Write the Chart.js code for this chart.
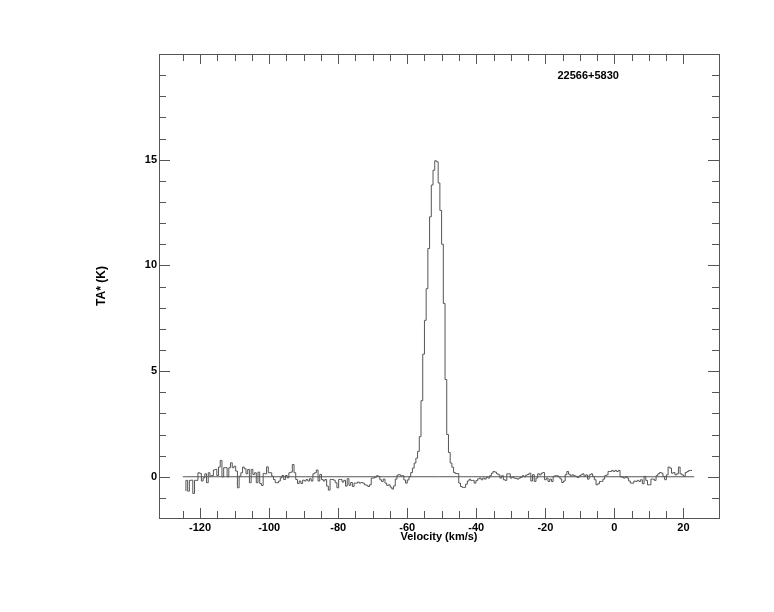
<!DOCTYPE html>
<html>
<head>
<meta charset="utf-8">
<script src="https://cdn.jsdelivr.net/npm/chart.js@4.4.0/dist/chart.umd.min.js"></script>
<style>
  html, body { margin: 0; padding: 0; background: #fff; }
  canvas { display: block; }
</style>
</head>
<body>
<canvas id="spec" width="774" height="612"></canvas>
<script>
// spectrum channels: first channel edge and width (km/s)
const V0 = -124.1;
const DV = 0.497;

// antenna temperature TA* (K) per channel
const ta = [
  -0.68, -0.17, -0.68, -0.17, -0.16, -0.79, -0.17, -0.17, 0.19, 0.16,
  -0.2, -0.05, 0.14, -0.28, 0.19, 0.03, 0.06, 0.32, 0.35, 0.06,
  0.46, 0.77, 0, 0.43, 0.43, 0, 0.43, 0.66, 0.43, 0.5,
  0.27, -0.52, 0.03, 0.19, 0.46, 0.38, 0.14, 0.35, -0.28, 0.35,
  0.11, 0.19, -0.28, 0.22, -0.32, -0.41, 0.16, 0.14, 0.47, 0.19,
  0.19, 0.03, -0.13, -0.28, -0.28, -0.2, -0.05, 0.06, -0.13, 0.06,
  -0.05, 0.19, 0.22, 0.58, 0.19, -0.13, -0.32, -0.2, -0.32, -0.16,
  -0.2, -0.13, -0.2, -0.09, -0.2, 0.14, 0.19, 0.32, -0.2, 0.11,
  -0.13, -0.2, -0.13, -0.44, -0.63, -0.13, -0.13, -0.16, -0.28, -0.52,
  -0.13, -0.13, -0.25, -0.17, -0.44, -0.09,
  -0.4, -0.27, -0.46, -0.3, -0.3, -0.25, -0.3, -0.27, -0.3, -0.38,
  -0.4, -0.46, -0.38, -0.06, -0.06, -0.02, 0.05, 0.02, -0.14, -0.22,
  -0.11, -0.3, -0.41, -0.38, -0.49, -0.58, -0.43, -0.11,
  0.08, 0.1, 0.05, 0.05, -0.15, -0.3, -0.15, 0.0, 0.2, 0.41,
  0.65, 0.88, 1.2, 1.9, 3.6, 5.8, 7.4, 8.9, 10.8, 12.3,
  13.8, 14.5, 14.95, 14.9, 13.9, 12.6, 11.0, 8.2, 4.6, 2.0,
  1.15, 0.65, 0.45, 0.2, 0.15, 0.15, -0.3, -0.46,
  -0.5, -0.5, -0.35, -0.2, -0.12, -0.18, -0.17, -0.3, -0.18, -0.1,
  -0.06, -0.14, -0.06, -0.11, -0.02, -0.06, 0.05, 0.17, 0.25, 0.22,
  0.14, 0.09, -0.06, 0.05, -0.14, -0.17, 0.14, 0.14, -0.06, -0.02,
  -0.06, -0.08, -0.11, -0.06, -0.02, 0.05, 0.0, 0.08, 0.11, 0.17,
  -0.2, 0.1, -0.22, -0.06, 0.14, 0.09, 0.17, 0.2, -0.14, -0.06,
  -0.22, -0.11, -0.22, 0.02, 0.05, 0.05,
  0.0, -0.1, -0.27, -0.2, 0.1, 0.25, 0.12, 0.05, 0.09, 0.05,
  0.02, -0.04, 0.04, 0.09, 0.14, 0.02, 0.09, -0.11, 0.09, 0.14,
  0.02, -0.14, -0.38, -0.33, -0.22, -0.22, -0.11, 0.05, 0.09, 0.25,
  0.25, 0.3, 0.25, 0.3, 0.25, 0.3, 0.0, -0.02, -0.06, 0.0,
  -0.06, -0.2, -0.3, -0.3, -0.2, -0.22, -0.17, -0.22, -0.14, -0.33,
  0.02, -0.17, -0.38, -0.38, -0.11, -0.11, -0.17, 0.05, 0.14, 0.2,
  0.17, 0.02, -0.14, 0.09, 0.46, 0.41, 0.17, 0.2, 0.09, 0.14,
  0.46, 0.14, 0.09, 0.02, 0.2, 0.25, 0.3
];

// zero baseline drawn across the spectrum
const baseX = [-125.0, 23.1];

// axes
const xRange = [-131.9, 30.3];
const yRange = [-1.95, 20.0];
const xLabels = [-120, -100, -80, -60, -40, -20, 0, 20];
const yLabels = [0, 5, 10, 15];
const xMinor = [];
for (let v = -125; v <= 20; v += 5) xMinor.push(v);
const yMinor = [];
for (let v = -1; v <= 19; v += 1) yMinor.push(v);

const sourceName = "22566+5830";
const lineColor = "#555";
const fontFam = '"Liberation Sans", Arial, sans-serif';

// step histogram: each point is a channel's left edge, last point closes the final channel
const specPoints = ta.map((t, i) => ({ x: V0 + i * DV, y: t }));
specPoints.push({ x: V0 + ta.length * DV, y: ta[ta.length - 1] });

const frameTicks = {
  id: "frameTicks",
  afterDatasetsDraw(chart) {
    const { ctx, chartArea: a, scales } = chart;
    const x = scales.x, y = scales.y;
    ctx.save();
    ctx.strokeStyle = lineColor;
    ctx.lineWidth = 1;
    ctx.strokeRect(a.left + 0.5, a.top + 0.5, a.right - a.left, a.bottom - a.top);
    ctx.beginPath();
    xMinor.forEach((v) => {
      const px = Math.round(x.getPixelForValue(v)) + 0.5;
      const len = xLabels.includes(v) ? 10 : 7;
      ctx.moveTo(px, a.bottom);
      ctx.lineTo(px, a.bottom - len);
      ctx.moveTo(px, a.top);
      ctx.lineTo(px, a.top + len);
    });
    yMinor.forEach((v) => {
      const py = Math.round(y.getPixelForValue(v)) + 0.5;
      const len = yLabels.includes(v) ? 11 : 7;
      ctx.moveTo(a.left, py);
      ctx.lineTo(a.left + len, py);
      ctx.moveTo(a.right, py);
      ctx.lineTo(a.right - len, py);
    });
    ctx.stroke();

    ctx.fillStyle = "#000";
    ctx.font = "bold 11px " + fontFam;
    ctx.textAlign = "center";
    ctx.textBaseline = "middle";
    ctx.fillText(sourceName, x.getPixelForValue(-7.6), y.getPixelForValue(18.95));
    ctx.restore();
  },
};

new Chart(document.getElementById("spec"), {
  type: "line",
  data: {
    datasets: [
      {
        data: specPoints,
        borderColor: lineColor,
        borderWidth: 1,
        pointRadius: 0,
        stepped: "after",
        fill: false,
      },
      {
        data: baseX.map((v) => ({ x: v, y: 0 })),
        borderColor: lineColor,
        borderWidth: 1,
        pointRadius: 0,
        fill: false,
      },
    ],
  },
  options: {
    responsive: false,
    animation: false,
    events: [],
    layout: { padding: { top: 54, right: 55, left: 0, bottom: 0 } },
    plugins: { legend: { display: false }, tooltip: { enabled: false } },
    scales: {
      x: {
        type: "linear",
        min: xRange[0],
        max: xRange[1],
        grid: { display: false, drawTicks: false },
        border: { display: false },
        afterBuildTicks: (axis) => {
          axis.ticks = xLabels.map((v) => ({ value: v }));
        },
        afterFit: (axis) => {
          axis.height = 94;
        },
        ticks: {
          padding: 3,
          maxRotation: 0,
          autoSkip: false,
          color: "#000",
          font: { family: fontFam, size: 11, weight: "bold" },
        },
        title: {
          display: true,
          text: "Velocity (km/s)",
          color: "#000",
          font: { family: fontFam, size: 11, weight: "bold" },
          padding: { top: 0, bottom: 68 },
        },
      },
      y: {
        min: yRange[0],
        max: yRange[1],
        grid: { display: false, drawTicks: false },
        border: { display: false },
        afterBuildTicks: (axis) => {
          axis.ticks = yLabels.map((v) => ({ value: v }));
        },
        afterFit: (axis) => {
          axis.width = 159;
        },
        ticks: {
          padding: 2,
          color: "#000",
          font: { family: fontFam, size: 11, weight: "bold" },
        },
        title: {
          display: true,
          text: "TA* (K)",
          color: "#000",
          font: { family: fontFam, size: 12, weight: "bold" },
          padding: { top: 94, bottom: 0 },
        },
      },
    },
  },
  plugins: [frameTicks],
});
</script>
</body>
</html>
